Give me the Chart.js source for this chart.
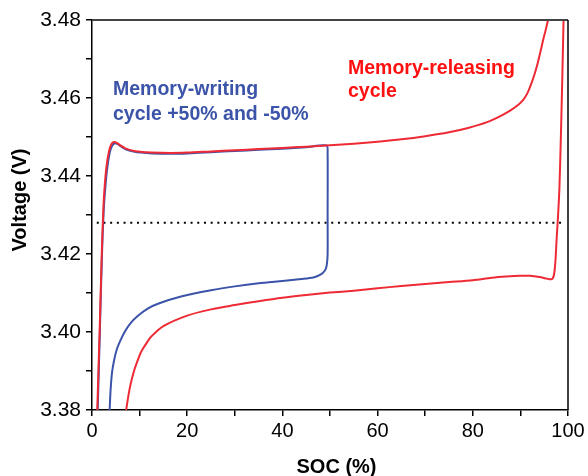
<!DOCTYPE html>
<html>
<head>
<meta charset="utf-8">
<script src="https://cdn.jsdelivr.net/npm/chart.js@4/dist/chart.umd.min.js"></script>
<style>
  html, body { margin: 0; padding: 0; background: #fff; }
  #wrap { width: 588px; height: 476px; }
</style>
</head>
<body>
<div id="wrap"><canvas id="socChart" width="588" height="476"></canvas></div>
<script>
// memory-releasing cycle, charge branch (upper red)
const relChargeSoc = [1.1, 1.6, 2.05, 2.4, 2.7, 3.1, 3.6, 4.1, 4.6, 5.2, 6.0, 7.0, 8.5, 10.1, 12.5, 16.5, 20, 25, 30, 35, 40, 45, 50, 55, 60, 65, 70, 75, 79, 83, 86, 88, 89.5, 90.6, 91.5, 92.3, 93.0, 93.6, 94.2, 94.8, 95.3, 95.8, 96.2];
const relChargeV = [3.38, 3.40, 3.42, 3.432, 3.438, 3.443, 3.4465, 3.4482, 3.4487, 3.4485, 3.4478, 3.4471, 3.4465, 3.4462, 3.446, 3.4459, 3.446, 3.4463, 3.4466, 3.4469, 3.4472, 3.4475, 3.4479, 3.4483, 3.4488, 3.4494, 3.4502, 3.4512, 3.4523, 3.4538, 3.4555, 3.4569, 3.4582, 3.4595, 3.4613, 3.4637, 3.4662, 3.4688, 3.4718, 3.475, 3.4774, 3.48, 3.4825];

// memory-releasing cycle, discharge branch (lower red)
const relDischSoc = [99.1, 98.8, 98.5, 98.2, 97.9, 97.6, 97.35, 97.1, 96.8, 96.4, 95.5, 94, 92, 90, 87, 84, 80, 75, 70, 65, 60, 55, 50, 45, 40, 35, 30, 25, 20, 15, 12.5, 11.7, 10.5, 9.9, 8.9, 8.0, 7.3, 7.0];
const relDischV = [3.482, 3.465, 3.45, 3.437, 3.4296, 3.4236, 3.418, 3.415, 3.4138, 3.4135, 3.4137, 3.4141, 3.4144, 3.4144, 3.4142, 3.4139, 3.4133, 3.4128, 3.4123, 3.4118, 3.4112, 3.4106, 3.4101, 3.4095, 3.4088, 3.4079, 3.4069, 3.4058, 3.4042, 3.4015, 3.3989, 3.3976, 3.3953, 3.3937, 3.3903, 3.386, 3.381, 3.378];

// memory-writing cycle: charge to 50% then discharge (blue)
const wrSoc = [1.2, 1.65, 2.1, 2.45, 2.8, 3.2, 3.7, 4.2, 4.8, 5.4, 6.2, 7.2, 8.7, 10.3, 12.7, 16.5, 20, 25, 30, 35, 40, 45, 49.3, 49.5, 49.5, 49.5, 49.3, 48.9, 48.0, 46.5, 44, 40, 35, 30, 25, 18.7, 14, 11.7, 9.6, 8.2, 7.0, 6.0, 5.2, 4.6, 4.2, 3.9, 3.7];
const wrV = [3.38, 3.40, 3.42, 3.431, 3.437, 3.442, 3.4458, 3.4477, 3.4484, 3.4482, 3.4475, 3.4468, 3.4463, 3.446, 3.4458, 3.4457, 3.4458, 3.4461, 3.4464, 3.4467, 3.447, 3.4474, 3.4478, 3.446, 3.43, 3.42, 3.417, 3.4157, 3.4147, 3.414, 3.4136, 3.4131, 3.4125, 3.4117, 3.4107, 3.4091, 3.4073, 3.406, 3.4041, 3.4024, 3.4003, 3.3979, 3.3955, 3.3925, 3.3895, 3.385, 3.38];

// dotted reference level
const refSoc = [1.0, 99.0];
const refV = [3.428, 3.428];

const xTickStep = 10;
const yTickStep = 0.01;

const RED = "#ee2a35";
const BLUE = "#3b53a8";

function zip(xs, ys) {
    return xs.map((x, i) => ({ x: x, y: ys[i] }));
}

const decorations = {
    id: "decorations",
    afterDraw(chart) {
        const ctx = chart.ctx;
        const a = chart.chartArea;
        ctx.save();
        // top and right frame
        ctx.strokeStyle = "#444";
        ctx.lineWidth = 2;
        ctx.beginPath();
        ctx.moveTo(a.left, a.top);
        ctx.lineTo(a.right, a.top);
        ctx.stroke();
        ctx.strokeStyle = "#000";
        ctx.lineWidth = 1.5;
        ctx.beginPath();
        ctx.moveTo(a.right, a.top);
        ctx.lineTo(a.right, a.bottom);
        ctx.stroke();

        // annotations
        ctx.font = "bold 19.5px 'Liberation Sans', Arial, sans-serif";
        ctx.textAlign = "left";
        ctx.textBaseline = "alphabetic";
        ctx.fillStyle = BLUE;
        ctx.fillText("Memory-writing", 113, 94.5);
        ctx.fillText("cycle +50% and -50%", 113, 119.5);
        ctx.fillStyle = "#ff1010";
        ctx.fillText("Memory-releasing", 348, 73.5);
        ctx.fillText("cycle", 348, 97);

        // axis titles
        ctx.fillStyle = "#000";
        ctx.font = "bold 20px 'Liberation Sans', Arial, sans-serif";
        ctx.textAlign = "center";
        ctx.fillText("SOC (%)", 336.5, 473);
        ctx.translate(25.5, 200);
        ctx.rotate(-Math.PI / 2);
        ctx.fillText("Voltage (V)", 0, 0);
        ctx.restore();
    }
};

new Chart(document.getElementById("socChart").getContext("2d"), {
    type: "scatter",
    data: {
        datasets: [
            {
                data: zip(relChargeSoc, relChargeV),
                showLine: true,
                borderColor: RED,
                borderWidth: 2,
                pointRadius: 0,
                tension: 0.3,
            },
            {
                data: zip(relDischSoc, relDischV),
                showLine: true,
                borderColor: RED,
                borderWidth: 2,
                pointRadius: 0,
                tension: 0.3,
            },
            {
                data: zip(wrSoc, wrV),
                showLine: true,
                borderColor: BLUE,
                borderWidth: 2,
                pointRadius: 0,
                tension: 0.25,
            },
            {
                data: zip(refSoc, refV),
                showLine: true,
                borderColor: "#000",
                borderWidth: 2,
                borderDash: [2, 4.7],
                pointRadius: 0,
            },
        ],
    },
    options: {
        responsive: false,
        animation: false,
        layout: { padding: { top: 20, right: 20, left: 0, bottom: 0 } },
        plugins: {
            legend: { display: false },
            tooltip: { enabled: false },
        },
        scales: {
            x: {
                type: "linear",
                min: 0,
                max: 100,
                afterFit: (s) => { s.height = 66; },
                border: { color: "#000", width: 1.5 },
                grid: {
                    drawOnChartArea: false,
                    drawTicks: true,
                    tickLength: 6,
                    color: "#000",
                    lineWidth: 1.5,
                },
                ticks: {
                    stepSize: xTickStep,
                    color: "#000",
                    padding: 3,
                    maxRotation: 0,
                    autoSkip: false,
                    font: { size: 20, family: "'Liberation Sans', Arial, sans-serif" },
                    callback: (v) => (Math.round(v) % 20 === 0 ? String(Math.round(v)) : ""),
                },
            },
            y: {
                type: "linear",
                min: 3.38,
                max: 3.48,
                afterFit: (s) => { s.width = 92; },
                border: { color: "#000", width: 1.5 },
                grid: {
                    drawOnChartArea: false,
                    drawTicks: true,
                    tickLength: 6,
                    color: "#000",
                    lineWidth: 1.5,
                },
                ticks: {
                    stepSize: yTickStep,
                    color: "#000",
                    padding: 5,
                    autoSkip: false,
                    font: { size: 21, family: "'Liberation Sans', Arial, sans-serif" },
                    callback: (v, i) => (i % 2 === 0 ? v.toFixed(2) : ""),
                },
            },
        },
    },
    plugins: [decorations],
});
</script>
</body>
</html>
